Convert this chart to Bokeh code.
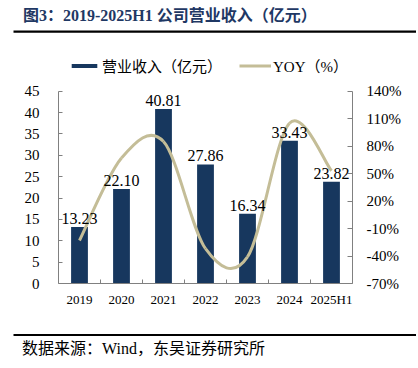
from bokeh.plotting import figure
from bokeh.layouts import column
from bokeh.models import (Range1d, LinearAxis, FixedTicker, PrintfTickFormatter,
                          ColumnDataSource, LabelSet, Label, Legend, LegendItem,
                          BoxAnnotation)
from bokeh.embed import file_html
from bokeh.resources import INLINE

# ---------------- data ----------------
years = ["2019", "2020", "2021", "2022", "2023", "2024", "2025H1"]
revenue = [13.23, 22.10, 40.81, 27.86, 16.34, 33.43, 23.82]
yoy = [-23, 67, 85, -32, -41, 105, 53]
left_ticks = [0, 5, 10, 15, 20, 25, 30, 35, 40, 45]
right_ticks = [-70, -40, -10, 20, 50, 80, 110, 140]

title_text = "图3：2019-2025H1 公司营业收入（亿元）"
source_text = "数据来源：Wind，东吴证券研究所"
bar_name = "营业收入（亿元）"
line_name = "YOY（%）"

# ---------------- style / layout constants ----------------
NAVY = "#17375E"
TAN = "#C4BD97"
AXIS = "#808080"
SERIF = "'Liberation Serif', 'Noto Sans CJK SC'"
W = 416
H_TOP, H_MAIN, H_BOT = 40, 293, 33
MAIN_TOP, MAIN_BOTTOM = 10, 50          # borders of the main frame
AXIS_PX = 192.3                         # pixels spanned by the 0..45 axis
FRAME_PX = H_MAIN - MAIN_TOP - MAIN_BOTTOM
L_LO, L_HI = left_ticks[0], left_ticks[-1]
R_LO, R_HI = right_ticks[0], right_ticks[-1]


def blank(height):
    f = figure(width=W, height=height, output_backend="svg", toolbar_location=None,
               x_range=Range1d(0, W), y_range=Range1d(height, 0),
               x_axis_location=None, y_axis_location=None, min_border=0,
               frame_align=False)
    f.outline_line_color = None
    f.grid.visible = False
    f.title.visible = False
    return f


# ---------------- header: title and rule ----------------
top = blank(H_TOP)
top.add_layout(Label(x=22.5, y=15, text=title_text, text_font=SERIF,
                     text_font_style="bold", text_font_size="16px",
                     text_color="#1F3864", text_align="left",
                     text_baseline="middle"))
top.add_layout(BoxAnnotation(left=13, right=W, top=30, bottom=32.3,
                             fill_color="black", fill_alpha=1, line_color=None))

# ---------------- main chart ----------------
xs = list(range(len(years)))
p_main = figure(width=W, height=H_MAIN, output_backend="svg", toolbar_location=None,
                x_range=Range1d(-0.5, len(years) - 0.5),
                y_range=Range1d(L_LO, L_LO + (L_HI - L_LO) * FRAME_PX / AXIS_PX),
                min_border_left=58, min_border_right=W - 352,
                min_border_top=MAIN_TOP, min_border_bottom=MAIN_BOTTOM,
                frame_align=False)
p_main.outline_line_color = None
p_main.grid.visible = False
p_main.title.visible = False
p_main.extra_y_ranges = {"yoy": Range1d(R_LO, R_LO + (R_HI - R_LO) * FRAME_PX / AXIS_PX)}

xa = p_main.xaxis[0]
xa.ticker = FixedTicker(ticks=xs, minor_ticks=[i + 0.5 for i in xs[:-1]])
xa.major_label_overrides = {i: y for i, y in enumerate(years)}
xa.major_tick_line_color = None
xa.major_tick_in = 0
xa.major_tick_out = 0
xa.minor_tick_in = 4
xa.minor_tick_out = 0
xa.minor_tick_line_color = AXIS
xa.axis_line_color = AXIS
xa.major_label_text_font = SERIF
xa.major_label_text_font_size = "13px"
xa.major_label_text_color = "black"
xa.major_label_standoff = 8

ya = p_main.yaxis[0]
ya.ticker = FixedTicker(ticks=left_ticks)
ya.bounds = (L_LO, L_HI)
ya.major_tick_in = 4
ya.major_tick_out = 0
ya.minor_tick_line_color = None
ya.major_tick_line_color = AXIS
ya.axis_line_color = AXIS
ya.major_label_text_font = SERIF
ya.major_label_text_font_size = "15px"
ya.major_label_text_color = "black"
ya.major_label_standoff = 19

ra = LinearAxis(y_range_name="yoy", ticker=FixedTicker(ticks=right_ticks),
                formatter=PrintfTickFormatter(format="%d%%"), bounds=(R_LO, R_HI))
ra.major_tick_in = 5
ra.major_tick_out = 0
ra.minor_tick_line_color = None
ra.major_tick_line_color = AXIS
ra.axis_line_color = AXIS
ra.major_label_text_font = SERIF
ra.major_label_text_font_size = "15px"
ra.major_label_text_color = "black"
ra.major_label_standoff = 14
p_main.add_layout(ra, "right")

src = ColumnDataSource(dict(x=xs, rev=revenue, lab=["%.2f" % v for v in revenue]))
bars = p_main.vbar(x="x", top="rev", width=0.4, source=src, fill_color=NAVY,
                   line_color=None)

# smoothed YOY line: bezier segments, control points derived from the data
n = len(yoy)
bz = dict(x0=[], y0=[], x1=[], y1=[], cx0=[], cy0=[], cx1=[], cy1=[])
for i in range(n - 1):
    pm = max(i - 1, 0)
    pp = min(i + 2, n - 1)
    bz["x0"].append(xs[i]); bz["y0"].append(yoy[i])
    bz["x1"].append(xs[i + 1]); bz["y1"].append(yoy[i + 1])
    bz["cx0"].append(xs[i] + (xs[i + 1] - xs[pm]) / 6)
    bz["cy0"].append(yoy[i] + (yoy[i + 1] - yoy[pm]) / 6)
    bz["cx1"].append(xs[i + 1] - (xs[pp] - xs[i]) / 6)
    bz["cy1"].append(yoy[i + 1] - (yoy[pp] - yoy[i]) / 6)
curve = p_main.bezier(x0="x0", y0="y0", x1="x1", y1="y1", cx0="cx0", cy0="cy0",
                      cx1="cx1", cy1="cy1", source=ColumnDataSource(bz),
                      y_range_name="yoy", line_color=TAN, line_width=3)

p_main.add_layout(LabelSet(x="x", y="rev", text="lab", source=src, y_offset=3,
                           text_align="center", text_baseline="bottom",
                           text_font=SERIF, text_font_size="16px",
                           text_color="black"))

legend = Legend(items=[LegendItem(label=bar_name, renderers=[bars]),
                       LegendItem(label=line_name, renderers=[curve])],
                orientation="horizontal", location=(10, 207),
                glyph_width=32, glyph_height=5, label_height=5,
                label_standoff=2, spacing=17, padding=0, margin=0,
                label_text_font=SERIF, label_text_font_size="15px",
                label_text_color="black", background_fill_alpha=0,
                border_line_color=None)
p_main.add_layout(legend, "center")

# ---------------- footer: rule and source ----------------
bot = blank(H_BOT)
bot.add_layout(BoxAnnotation(left=13, right=W, top=0.5, bottom=2.5,
                             fill_color="black", fill_alpha=1, line_color=None))
bot.add_layout(Label(x=21.5, y=15.3, text=source_text, text_font=SERIF,
                     text_font_size="16px", text_color="black",
                     text_align="left", text_baseline="middle"))

p = column(top, p_main, bot, spacing=0)
open("out.html", "w").write(file_html(p, INLINE))
